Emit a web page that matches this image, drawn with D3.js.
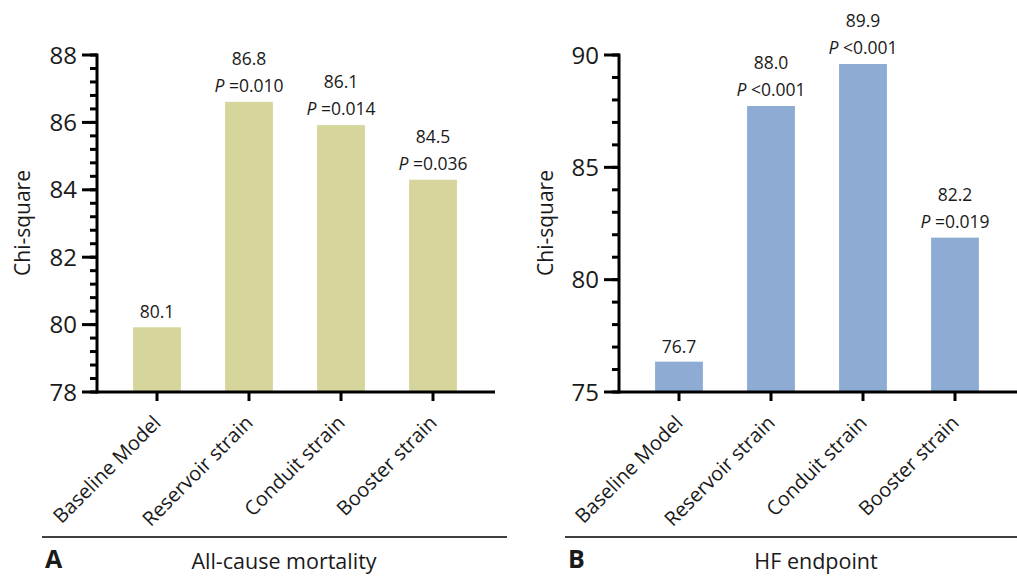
<!DOCTYPE html>
<html>
<head>
<meta charset="utf-8">
<script src="https://cdn.jsdelivr.net/npm/d3@7"></script>
<style>
  body { margin: 0; background: #fff; }
  svg text { font-family: "Open Sans", "Noto Sans", sans-serif; fill: #1a1a1a; }
</style>
</head>
<body>
<div id="chart"></div>
<script>
// categories shared by both panels
var categories = ["Baseline Model", "Reservoir strain", "Conduit strain", "Booster strain"];

// panel A: all-cause mortality (bar heights as drawn, printed labels)
var mortalityValues = [79.92, 86.61, 85.92, 84.30];
var mortalityLabels = ["80.1", "86.8", "86.1", "84.5"];
var mortalityP = [null, "=0.010", "=0.014", "=0.036"];
var mortalityTicks = [78, 80, 82, 84, 86, 88];

// panel B: HF endpoint
var hfValues = [76.35, 87.73, 89.60, 81.87];
var hfLabels = ["76.7", "88.0", "89.9", "82.2"];
var hfP = [null, "<0.001", "<0.001", "=0.019"];
var hfTicks = [75, 80, 85, 90];

var svg = d3.select("#chart").append("svg")
  .attr("width", 1017)
  .attr("height", 576);

function drawPanel(p) {
  var g = svg.append("g");

  var y = d3.scaleLinear().domain(p.domain).range([392, 55]);
  var x = d3.scaleBand().domain(categories).range([p.axisX + 14, p.axisX + 382]);
  var barW = x.bandwidth() * 0.52;

  // bars
  g.selectAll("rect.bar").data(p.values).enter().append("rect")
    .attr("class", "bar")
    .attr("x", function(d, i) { return x(categories[i]) + (x.bandwidth() - barW) / 2; })
    .attr("y", function(d) { return y(d); })
    .attr("width", barW)
    .attr("height", function(d) { return y(p.domain[0]) - y(d); })
    .style("fill", p.color);

  // y axis with minor ticks
  var minor = d3.range(p.domain[0], p.domain[1] + 1e-9, p.minorStep);
  var yAxis = g.append("g").attr("transform", "translate(" + p.axisX + ",0)");
  yAxis.selectAll("line.minor").data(minor).enter().append("line")
    .attr("x1", -7).attr("x2", 0)
    .attr("y1", function(d) { return y(d); })
    .attr("y2", function(d) { return y(d); })
    .style("stroke", "#000").style("stroke-width", 3);
  yAxis.selectAll("line.major").data(p.ticks).enter().append("line")
    .attr("x1", -15).attr("x2", 0)
    .attr("y1", function(d) { return y(d); })
    .attr("y2", function(d) { return y(d); })
    .style("stroke", "#000").style("stroke-width", 3);
  yAxis.selectAll("text").data(p.ticks).enter().append("text")
    .attr("x", -20)
    .attr("y", function(d) { return y(d); })
    .attr("dy", "0.36em")
    .attr("text-anchor", "end")
    .style("font-size", "24px")
    .text(function(d) { return d; });
  yAxis.append("line")
    .attr("x1", 0).attr("x2", 0)
    .attr("y1", y(p.domain[1]) - 1.5).attr("y2", y(p.domain[0]) + 1.5)
    .style("stroke", "#000").style("stroke-width", 3);

  // x axis
  var xAxis = g.append("g").attr("transform", "translate(0," + y(p.domain[0]) + ")");
  xAxis.append("line")
    .attr("x1", p.axisX).attr("x2", p.xEnd)
    .style("stroke", "#000").style("stroke-width", 3);
  xAxis.selectAll("line.tick").data(categories).enter().append("line")
    .attr("x1", function(d) { return x(d) + x.bandwidth() / 2; })
    .attr("x2", function(d) { return x(d) + x.bandwidth() / 2; })
    .attr("y1", 0).attr("y2", 9)
    .style("stroke", "#000").style("stroke-width", 3);
  xAxis.selectAll("text").data(categories).enter().append("text")
    .attr("transform", function(d) {
      return "translate(" + (x(d) + x.bandwidth() / 2 - 2) + ",25) rotate(-45)";
    })
    .attr("text-anchor", "end")
    .attr("dy", "0.5em")
    .style("font-size", "20px")
    .text(function(d) { return d; });

  // y title
  g.append("text")
    .attr("transform", "translate(" + p.titleX + ",223) rotate(-90)")
    .attr("text-anchor", "middle")
    .style("font-size", "21px")
    .text("Chi-square");

  // value labels above bars
  p.values.forEach(function(v, i) {
    var cx = x(categories[i]) + x.bandwidth() / 2;
    var top = y(v);
    if (p.pvals[i]) {
      var t2 = g.append("text").attr("x", cx).attr("y", top - 10)
        .attr("text-anchor", "middle").style("font-size", "17.5px");
      t2.append("tspan").style("font-style", "italic").text("P");
      t2.append("tspan").text(" " + p.pvals[i]);
      g.append("text").attr("x", cx).attr("y", top - 37)
        .attr("text-anchor", "middle").style("font-size", "17.5px")
        .text(p.labels[i]);
    } else {
      g.append("text").attr("x", cx).attr("y", top - 9)
        .attr("text-anchor", "middle").style("font-size", "17.5px")
        .text(p.labels[i]);
    }
  });

  // footer: rule, panel letter, caption
  g.append("line")
    .attr("x1", p.ruleX[0]).attr("x2", p.ruleX[1])
    .attr("y1", 537).attr("y2", 537)
    .style("stroke", "#000").style("stroke-width", 1.5);
  g.append("text")
    .attr("x", p.ruleX[0] + 3).attr("y", 568)
    .style("font-size", "25px").style("font-weight", "bold")
    .text(p.letter);
  g.append("text")
    .attr("x", p.captionX).attr("y", 569)
    .attr("text-anchor", "middle")
    .style("font-size", "21.5px")
    .text(p.caption);
}

drawPanel({
  axisX: 97, xEnd: 495, domain: [78, 88], ticks: mortalityTicks, minorStep: 0.4,
  values: mortalityValues, labels: mortalityLabels, pvals: mortalityP,
  color: "#d6d69c", titleX: 30, ruleX: [42, 507], letter: "A",
  caption: "All-cause mortality", captionX: 284
});

drawPanel({
  axisX: 619, xEnd: 1017, domain: [75, 90], ticks: hfTicks, minorStep: 1,
  values: hfValues, labels: hfLabels, pvals: hfP,
  color: "#8dabd3", titleX: 553, ruleX: [565, 1017], letter: "B",
  caption: "HF endpoint", captionX: 816
});
</script>
</body>
</html>
